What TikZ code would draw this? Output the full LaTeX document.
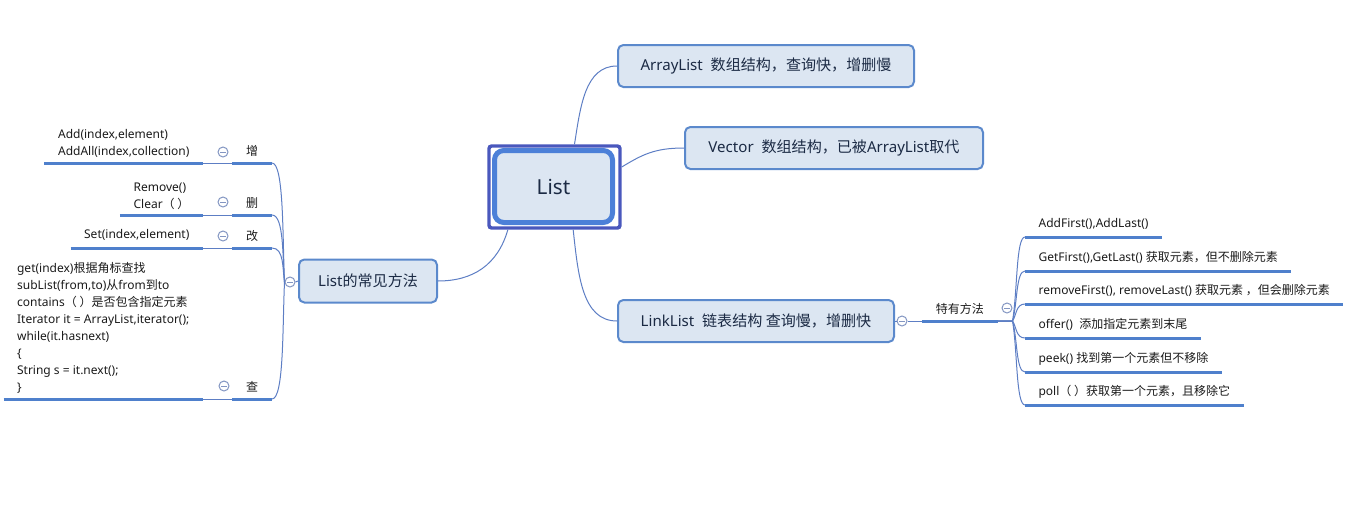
\documentclass[tikz,border=0pt]{standalone}
\usepackage{fontspec}
\setmainfont{Noto Sans}
\newfontfamily\zhfont{Noto Sans CJK SC}
\newcommand\zhtxt[1]{{\zhfont #1}}
\usetikzlibrary{calc}
\definecolor{nfill}{HTML}{DCE6F2}
\definecolor{nborder}{HTML}{5B89CC}
\definecolor{rootout}{HTML}{4A58BD}
\definecolor{rootin}{HTML}{4C80D8}
\definecolor{connc}{HTML}{5D7EC4}
\definecolor{ulc}{HTML}{4F80CC}
\definecolor{togc}{HTML}{8396C2}
\definecolor{ntext}{HTML}{1B2A44}
\definecolor{leaftext}{HTML}{1A1A1A}
\begin{document}
\begin{tikzpicture}[x=0.75pt,y=-0.75pt,
  topic/.style={draw=nborder, line width=1.5pt, fill=nfill, rounded corners=4pt, text=ntext,
    font=\fontsize{11.3}{14}\selectfont, inner sep=0pt, minimum height=31.5pt},
  rootbox/.style={draw=rootin, line width=3.75pt, fill=nfill, rounded corners=7pt, text=ntext,
    font=\fontsize{15.5}{18}\selectfont, minimum width=88.5pt, minimum height=54pt, inner sep=0pt},
  rootframe/.style={draw=rootout, line width=2.6pt, rounded corners=2pt,
    minimum width=98.25pt, minimum height=61.5pt, inner sep=0pt},
  link/.style={draw=connc, line width=0.75pt},
  ul/.style={draw=ulc, line width=2.25pt},
  leaf/.style={font=\fontsize{9}{12.75}\selectfont, text=leaftext, align=left, inner xsep=10pt,
    inner ysep=4pt, minimum height=19.5pt,
    append after command={(\tikzlastnode.south west) edge[ul] (\tikzlastnode.south east)}},
  tag/.style={font=\fontsize{9}{11}\selectfont, text=leaftext, inner sep=0pt, minimum height=18pt,
    append after command={(\tikzlastnode.south west) edge[ul] (\tikzlastnode.south east)}},
  tog/.style={circle, draw=togc, fill=white, line width=0.75pt, minimum size=7.5pt, inner sep=0pt,
    path picture={\draw[togc, line width=0.6pt] ([xshift=-2.2pt]path picture bounding box.center)
      -- ([xshift=2.2pt]path picture bounding box.center);}}
]
\useasboundingbox (0,0) rectangle (1361,521);

% root
\node[rootframe] (rootframe) at (554.5,187) {};
\node[rootbox] (root) at (553.5,186.5) {List};

% main topics
\node[topic, minimum width=222pt] (arr) at (766,66) {ArrayList\ \ \zhtxt{数组结构，查询快，增删慢}};
\node[topic, minimum width=223.5pt] (vec) at (834,148) {Vector\ \ \zhtxt{数组结构，已被}ArrayList\zhtxt{取代}};
\node[topic, minimum width=207pt] (link) at (756,321) {LinkList\ \ \zhtxt{链表结构 查询慢，增删快}};
\node[topic, minimum width=103.5pt, minimum height=32.25pt] (meth) at (368,281) {List\zhtxt{的常见方法}};

% toggles
\node[tog] (tmeth) at (290,282) {};
\node[tog] (tlink) at (902,321) {};
\node[tog] (tfeat) at (1007,308) {};
\node[tog] (tzeng) at (223,152) {};
\node[tog] (tshan) at (223,202) {};
\node[tog] (tgai) at (223,236) {};
\node[tog] (tcha) at (224,386) {};

% tags
\node[tag, minimum width=29.25pt, anchor=south east] (zeng) at (272,163) {\zhtxt{增}};
\node[tag, minimum width=29.25pt, anchor=south east] (shan) at (272,215) {\zhtxt{删}};
\node[tag, minimum width=29.25pt, anchor=south east] (gai) at (272,248) {\zhtxt{改}};
\node[tag, minimum width=29.25pt, anchor=south east] (cha) at (272,399) {\zhtxt{查}};
\node[tag, minimum width=56.25pt, anchor=south west] (feat) at (922,321) {\zhtxt{特有方法}};

% left leaves
\node[leaf, anchor=south east] (zengL) at (203,163) {Add(index,element)\\AddAll(index,collection)};
\node[leaf, anchor=south east] (shanL) at (203,215) {Remove()\\Clear\zhtxt{（ ）}};
\node[leaf, anchor=south east] (gaiL) at (203,248) {Set(index,element)};
\node[leaf, anchor=south east] (chaL) at (203,399) {get(index)\zhtxt{根据角标查找}\\subList(from,to)\zhtxt{从}from\zhtxt{到}to\\contains\zhtxt{（ ）是否包含指定元素}\\Iterator it = ArrayList,iterator();\\while(it.hasnext)\\\{\\String s = it.next();\\\}};

% right leaves
\node[leaf, anchor=south west] (r1) at (1025,237) {AddFirst(),AddLast()};
\node[leaf, anchor=south west] (r2) at (1025,271) {GetFirst(),GetLast() \zhtxt{获取元素，但不删除元素}};
\node[leaf, anchor=south west] (r3) at (1025,304) {removeFirst(), removeLast() \zhtxt{获取元素 ，但会删除元素}};
\node[leaf, anchor=south west] (r4) at (1025,338) {offer()\ \ \zhtxt{添加指定元素到末尾}};
\node[leaf, anchor=south west] (r5) at (1025,372) {peek() \zhtxt{找到第一个元素但不移除}};
\node[leaf, anchor=south west] (r6) at (1025,405) {poll\zhtxt{（ ）获取第一个元素，且移除它}};

% root connectors
\draw[link] ([xshift=15pt]rootframe.north) .. controls +(6,-38) and +(-32,0) .. (arr.west);
\draw[link] ([yshift=15pt]rootframe.east) .. controls +(20,-12) and +(-30,0) .. (vec.west);
\draw[link] ([xshift=14pt]rootframe.south) .. controls +(5,45) and +(-35,0) .. (link.west);
\draw[link] ([xshift=-35pt]rootframe.south) .. controls +(-10,35) and +(35,0) .. (meth.east);

% linklist branch
\draw[link] (link.east) -- (tlink.west);
\draw[link] (tlink.east) -- (feat.south west);
\draw[link] (feat.south east) -- ++(15,0) .. controls +(5,-30) and +(-9,0) .. (r1.south west);
\draw[link] (feat.south east) -- ++(15,0) .. controls +(5,-18) and +(-9,0) .. (r2.south west);
\draw[link] (feat.south east) -- ++(15,0) .. controls +(4,-6) and +(-9,0) .. (r3.south west);
\draw[link] (feat.south east) -- ++(15,0) .. controls +(4,6) and +(-9,0) .. (r4.south west);
\draw[link] (feat.south east) -- ++(15,0) .. controls +(5,18) and +(-9,0) .. (r5.south west);
\draw[link] (feat.south east) -- ++(15,0) .. controls +(5,30) and +(-9,0) .. (r6.south west);

% methods branch
\draw[link] (meth.west) -- (tmeth.east);
\draw[link] (tmeth.west) .. controls +(-2,-45) and +(12,0) .. (zeng.south east);
\draw[link] (tmeth.west) .. controls +(-2,-25) and +(12,0) .. (shan.south east);
\draw[link] (tmeth.west) .. controls +(-2,-14) and +(12,0) .. (gai.south east);
\draw[link] (tmeth.west) .. controls +(-2,45) and +(12,0) .. (cha.south east);
\draw[link] (zeng.south west) -- (zengL.south east);
\draw[link] (shan.south west) -- (shanL.south east);
\draw[link] (gai.south west) -- (gaiL.south east);
\draw[link] (cha.south west) -- (chaL.south east);
\end{tikzpicture}
\end{document}
